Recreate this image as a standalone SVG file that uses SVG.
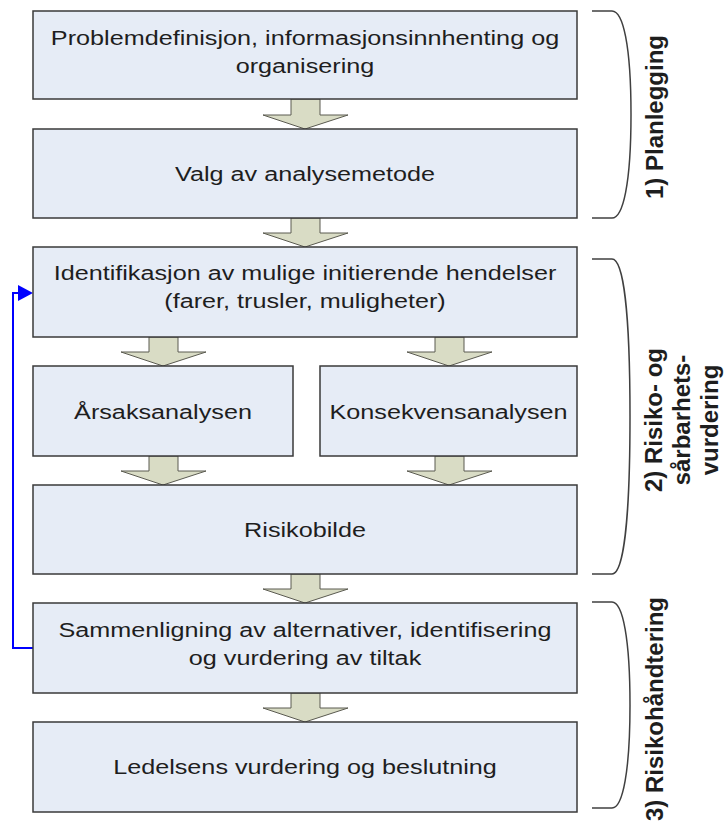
<svg xmlns="http://www.w3.org/2000/svg" width="728" height="828" viewBox="0 0 728 828">
<defs>
<style>
.box{fill:#e6ecf6;stroke:#3a3a3a;stroke-width:1.5}
.t{font-family:"Liberation Sans",Arial,sans-serif;font-size:21px;fill:#1e1e1e;text-anchor:middle}
.lab{font-family:"Liberation Sans",Arial,sans-serif;font-size:24px;font-weight:bold;fill:#1e1e1e;text-anchor:middle}
.blk{fill:#d9dcc5;stroke:#5a5a50;stroke-width:1}
.br{fill:none;stroke:#404040;stroke-width:1.5}
.fb{fill:none;stroke:#0000ff;stroke-width:2}
.fbh{fill:#0000ff}
</style>
</defs>

<g id="connectors">
<path class="blk" d="M291,99 V115 H263 L305,129 L348,115 H320 V99 Z"/>
<path class="blk" d="M291,218 V233 H263 L305,247 L348,233 H320 V218 Z"/>
<path class="blk" d="M149,337 V352 H121 L163,366 L206,352 H178 V337 Z"/>
<path class="blk" d="M435,337 V352 H407 L449,366 L492,352 H464 V337 Z"/>
<path class="blk" d="M149,456 V471 H121 L163,485 L206,471 H178 V456 Z"/>
<path class="blk" d="M435,456 V471 H407 L449,485 L492,471 H464 V456 Z"/>
<path class="blk" d="M291,574 V589 H263 L305,603 L348,589 H320 V574 Z"/>
<path class="blk" d="M291,693 V708 H263 L305,722 L348,708 H320 V693 Z"/>
<path class="fb" d="M33,648 H13 V293 H19"/>
<path class="fbh" d="M18,285 L33,293 L18,301 Z"/>
</g>

<g id="n1"><rect class="box" x="33" y="11" width="544" height="88"/>
<text class="t" transform="translate(305 45) scale(1.2 1)">Problemdefinisjon, informasjonsinnhenting og</text>
<text class="t" transform="translate(305 73) scale(1.2 1)">organisering</text></g>

<g id="n2"><rect class="box" x="33" y="129" width="544" height="89"/>
<text class="t" transform="translate(305 181) scale(1.2 1)">Valg av analysemetode</text></g>

<g id="n3"><rect class="box" x="33" y="247" width="544" height="90"/>
<text class="t" transform="translate(305 280) scale(1.2 1)">Identifikasjon av mulige initierende hendelser</text>
<text class="t" transform="translate(305 308) scale(1.2 1)">(farer, trusler, muligheter)</text></g>

<g id="n4"><rect class="box" x="33" y="366" width="260" height="90"/>
<text class="t" transform="translate(163 419) scale(1.2 1)">Årsaksanalysen</text></g>

<g id="n5"><rect class="box" x="320" y="366" width="257" height="90"/>
<text class="t" transform="translate(448.5 419) scale(1.2 1)">Konsekvensanalysen</text></g>

<g id="n6"><rect class="box" x="33" y="485" width="544" height="89"/>
<text class="t" transform="translate(305 537) scale(1.2 1)">Risikobilde</text></g>

<g id="n7"><rect class="box" x="33" y="603" width="544" height="90"/>
<text class="t" transform="translate(305 637) scale(1.2 1)">Sammenligning av alternativer, identifisering</text>
<text class="t" transform="translate(305 665) scale(1.2 1)">og vurdering av tiltak</text></g>

<g id="n8"><rect class="box" x="33" y="722" width="544" height="90"/>
<text class="t" transform="translate(305 774) scale(1.2 1)">Ledelsens vurdering og beslutning</text></g>

<g id="phase1">
<path class="br" d="M592,11 H612 C623,11 631,45 631,114.5 C631,184 623,218 612,218 H592"/>
<text class="lab" transform="translate(663 117) rotate(-90)">1) Planlegging</text>
</g>
<g id="phase2">
<path class="br" d="M592,259 H612 C623,259 630,310 630,416.5 C630,523 623,574 612,574 H592"/>
<text class="lab" transform="translate(662 420) rotate(-90)">2) Risiko- og</text>
<text class="lab" transform="translate(690 420) rotate(-90)">sårbarhets-</text>
<text class="lab" transform="translate(718 420) rotate(-90)">vurdering</text>
</g>
<g id="phase3">
<path class="br" d="M592,602 H612 C623,602 630,640 630,705 C630,770 623,808 612,808 H592"/>
<text class="lab" transform="translate(663 709) rotate(-90)">3) Risikohåndtering</text>
</g>
</svg>
